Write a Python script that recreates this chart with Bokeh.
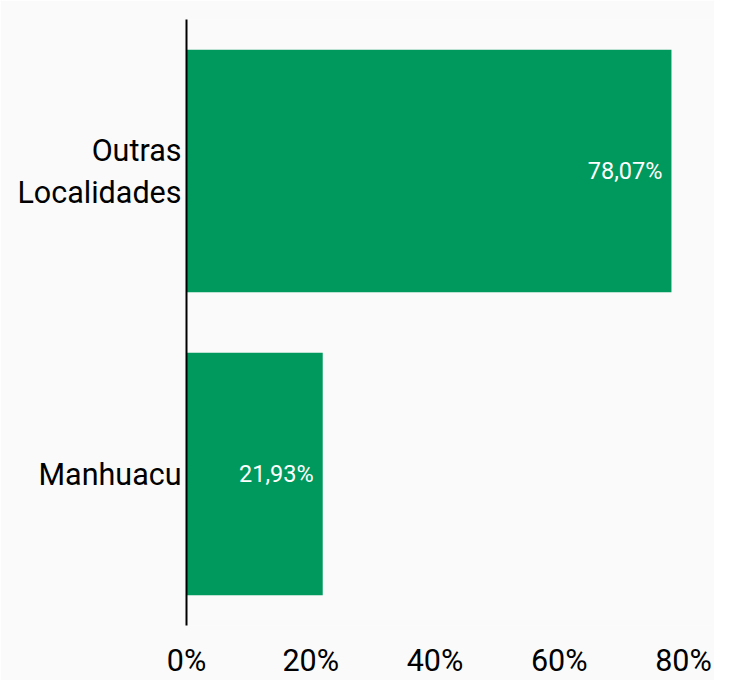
from bokeh.plotting import figure
from bokeh.models import Range1d, FactorRange, ColumnDataSource, FixedTicker
from bokeh.core.properties import value
from bokeh.embed import file_html
from bokeh.resources import INLINE

categories = ["Manhuacu", "Outras\nLocalidades"]
shares = [21.93, 78.07]
share_labels = ["21,93%", "78,07%"]
x_ticks = [0, 20, 40, 60, 80]
x_tick_labels = ["0%", "20%", "40%", "60%", "80%"]

BG = "#FAFAFA"
GREEN = "#00995D"
FONT = "Roboto"

src = ColumnDataSource(dict(cat=categories, val=shares, lab=share_labels))

p = figure(
    width=714, height=680,
    y_range=FactorRange(*categories, range_padding=0),
    x_range=Range1d(0, 85.0),
    output_backend="svg", toolbar_location=None,
    min_border_left=186, min_border_right=0, min_border_top=19, min_border_bottom=42,
    background_fill_color=BG, border_fill_color=BG, outline_line_color=None,
)

p.hbar(y="cat", right="val", left=0, height=0.8, source=src, color=GREEN, line_color=None)

p.text(x="val", y="cat", text="lab", source=src, x_offset=-9,
       text_align="right", text_baseline="middle", text_color="white",
       text_font=value(FONT), text_font_size="23.5px")

p.grid.visible = False

xa = p.xaxis[0]
xa.ticker = FixedTicker(ticks=x_ticks)
xa.major_label_overrides = {t: l for t, l in zip(x_ticks, x_tick_labels)}
xa.axis_line_color = None
xa.major_tick_line_color = None
xa.minor_tick_line_color = None
xa.major_tick_out = 0
xa.major_tick_in = 0
xa.major_label_standoff = 17
xa.major_label_text_font = FONT
xa.major_label_text_font_size = "30.5px"
xa.major_label_text_color = "black"

ya = p.yaxis[0]
ya.axis_line_color = "black"
ya.axis_line_width = 2
ya.major_tick_line_color = None
ya.minor_tick_line_color = None
ya.major_tick_out = 0
ya.major_tick_in = 0
ya.major_label_standoff = 5
ya.major_label_text_font = FONT
ya.major_label_text_font_size = "30.5px"
ya.major_label_text_color = "black"

open("out.html", "w").write(file_html(p, INLINE))
